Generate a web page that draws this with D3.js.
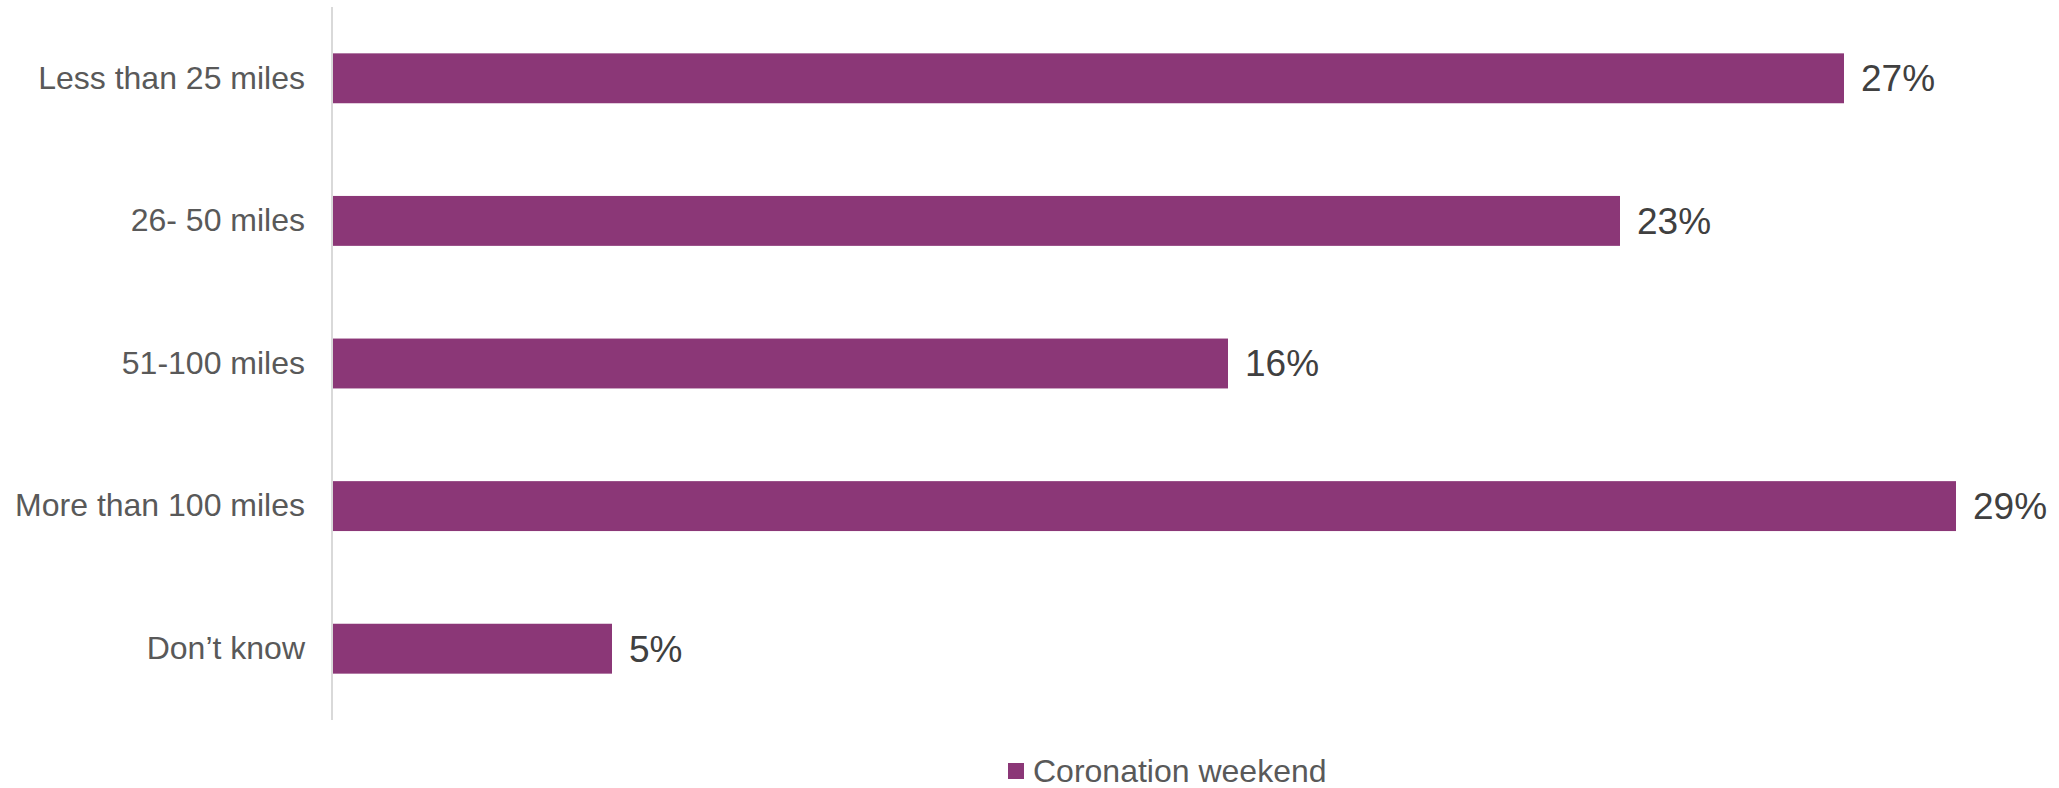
<!DOCTYPE html>
<html>
<head>
<meta charset="utf-8">
<script src="https://cdn.jsdelivr.net/npm/d3@7"></script>
<style>
  html, body { margin: 0; padding: 0; background: #fff; }
  svg { display: block; font-family: Arial, "Liberation Sans", sans-serif; }
</style>
</head>
<body>
<svg id="chart" width="2059" height="788"></svg>
<script>
const categories = ["Less than 25 miles", "26- 50 miles", "51-100 miles", "More than 100 miles", "Don\u2019t know"];
const values = [27, 23, 16, 29, 5];
const valueLabels = ["27%", "23%", "16%", "29%", "5%"];
const seriesName = "Coronation weekend";

const W = 2059, H = 788;
const plot = { left: 332, right: 2012, top: 7, bottom: 720 };
const barColor = "#8B3777";

const svg = d3.select("#chart");

const x = d3.scaleLinear().domain([0, 30]).range([plot.left, plot.right]);
const y = d3.scaleBand().domain(categories).range([plot.top, plot.bottom]).paddingInner(0.65).paddingOuter(0.325);

// bars
svg.append("g").selectAll("rect")
  .data(values)
  .join("rect")
  .attr("x", x(0))
  .attr("y", (d, i) => y(categories[i]))
  .attr("width", d => x(d) - x(0))
  .attr("height", y.bandwidth())
  .attr("fill", barColor);

// axis
const yAxis = d3.axisLeft(y).tickSize(0).tickPadding(27);
const gy = svg.append("g").attr("transform", `translate(${x(0)},0)`).call(yAxis);
gy.select(".domain").attr("stroke", "#d9d9d9").attr("stroke-width", 2)
  .attr("d", `M0,${plot.top}V${plot.bottom}`);
gy.selectAll("text")
  .attr("font-size", 32)
  .attr("font-family", "Arial, 'Liberation Sans', sans-serif")
  .attr("fill", "#595959");

// value labels
svg.append("g").selectAll("text")
  .data(values)
  .join("text")
  .attr("x", d => x(d) + 17)
  .attr("y", (d, i) => y(categories[i]) + y.bandwidth() / 2)
  .attr("dy", "0.35em")
  .attr("font-size", 37)
  .attr("fill", "#404040")
  .text((d, i) => valueLabels[i]);

// legend
const lg = svg.append("g").attr("transform", "translate(1008,763)");
lg.append("rect").attr("width", 16).attr("height", 16).attr("fill", barColor);
lg.append("text").attr("x", 25).attr("y", 8).attr("dy", "0.35em")
  .attr("font-size", 32).attr("fill", "#595959").text(seriesName);
</script>
</body>
</html>
